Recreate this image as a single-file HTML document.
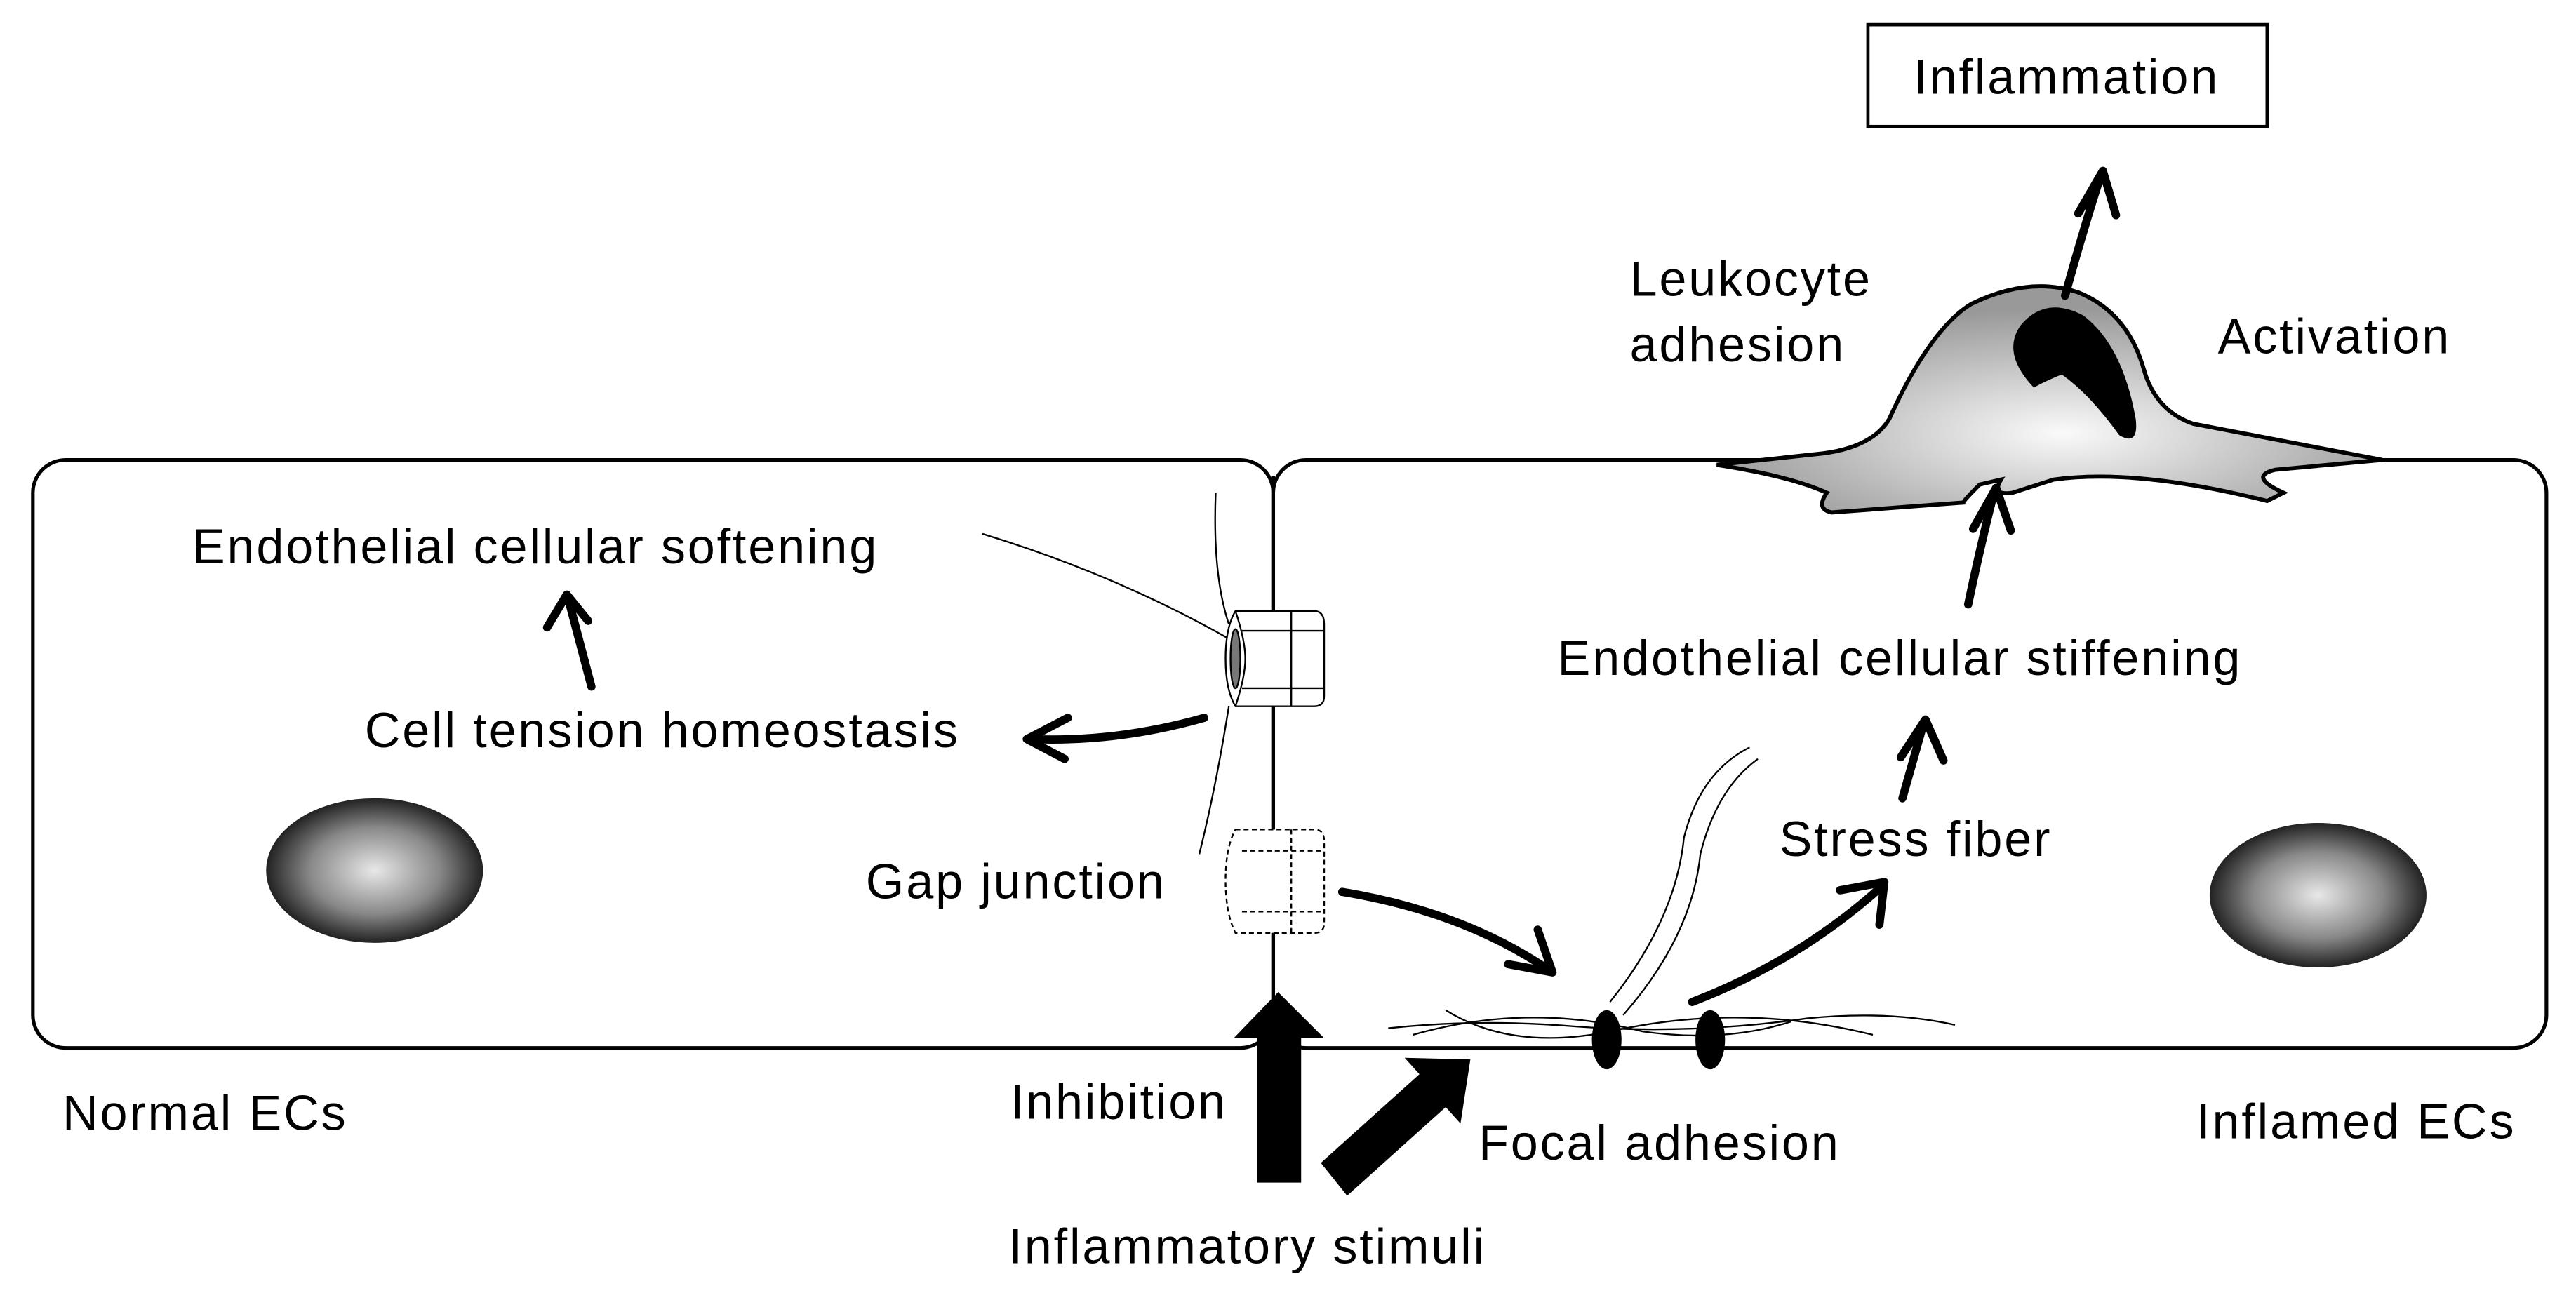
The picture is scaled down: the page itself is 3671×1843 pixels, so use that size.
<!DOCTYPE html>
<html><head><meta charset="utf-8"><style>
html,body{margin:0;padding:0;background:#fff;}
svg{display:block;}
text{font-family:"Liberation Sans",Arial,sans-serif;font-size:30px;letter-spacing:1.2px;fill:#000;}
</style></head><body>
<svg width="3671" height="1843" viewBox="0 0 1568 787.2" xmlns="http://www.w3.org/2000/svg">
<defs>
<radialGradient id="nuc" cx="50%" cy="50%" r="50%">
<stop offset="0" stop-color="#e8e8e8"/><stop offset="0.6" stop-color="#888"/><stop offset="1" stop-color="#222"/>
</radialGradient>
<radialGradient id="leu" cx="52%" cy="65%" r="55%">
<stop offset="0" stop-color="#fafafa"/><stop offset="1" stop-color="#999"/>
</radialGradient>
</defs>
<g fill="none" stroke="#000">
<rect x="20" y="280" width="755" height="358" rx="20" stroke-width="2.2"/>
<rect x="775" y="280" width="775" height="358" rx="20" stroke-width="2.2"/>
<rect x="1137" y="15" width="243" height="62" stroke-width="2"/>
</g>
<!-- leukocyte -->
<path d="M1045,283 L1110,276 Q1140,272 1150,255 Q1175,200 1200,185 Q1235,168 1265,178 Q1295,190 1305,225 Q1312,250 1335,258 L1450,280 L1385,286 Q1368,290 1390,300 L1380,305 Q1300,285 1250,292 L1225,300 Q1212,302 1218,292 L1205,295 Q1195,305 1195,306 L1115,312 Q1105,310 1112,300 Q1090,290 1045,283 Z" fill="url(#leu)" stroke="#000" stroke-width="2.5"/>
<path d="M1230,198 Q1245,180 1268,192 Q1292,210 1300,255 Q1302,272 1290,265 Q1272,240 1255,228 Q1245,232 1238,236 Q1218,215 1230,198 Z" fill="#000"/>
<ellipse cx="228" cy="530" rx="66" ry="44" fill="url(#nuc)"/>
<ellipse cx="1411" cy="545" rx="66" ry="44" fill="url(#nuc)"/>
<g fill="none" stroke="#000" stroke-width="1">
<path d="M598,325 Q680,350 750,390"/>
<path d="M740,300 Q738,350 748,380 M748,430 Q740,480 730,520"/>
<path d="M845,626 Q900,620 960,625 Q1030,630 1100,620 Q1150,615 1190,624"/>
<path d="M880,615 Q920,640 980,628 Q1060,610 1140,630"/>
<path d="M860,630 Q930,610 1000,628 Q1050,635 1090,622"/>
<path d="M980,610 Q1020,560 1025,510 Q1035,470 1065,455"/>
<path d="M988,618 Q1030,570 1035,520 Q1045,480 1070,462"/>
</g>
<g fill="#fff" stroke="#000" stroke-width="1">
<path d="M752,372 L800,372 Q806,372 806,380 L806,424 Q806,430 800,430 L752,430 Q746,420 746,401 Q746,382 752,372 Z"/>
<line x1="756" y1="384" x2="806" y2="384"/><line x1="756" y1="419" x2="806" y2="419"/>
<path d="M752,372 Q758,390 758,401 Q758,412 752,430"/>
<line x1="786" y1="372" x2="786" y2="430"/>
<ellipse cx="752" cy="401" rx="3" ry="18" fill="#777"/>
</g>
<g fill="#fff" stroke="#000" stroke-width="1" stroke-dasharray="3,2">
<path d="M752,505 L800,505 Q806,505 806,512 L806,562 Q806,568 800,568 L752,568 Q746,556 746,536 Q746,516 752,505 Z"/>
<line x1="756" y1="518" x2="806" y2="518"/><line x1="756" y1="555" x2="806" y2="555"/>
<line x1="786" y1="505" x2="786" y2="568"/>
</g>
<line x1="775" y1="290" x2="775" y2="372" stroke="#000" stroke-width="2.2"/>
<line x1="775" y1="430" x2="775" y2="505" stroke="#000" stroke-width="2.2"/>
<line x1="775" y1="568" x2="775" y2="610" stroke="#000" stroke-width="2.2"/>
<ellipse cx="978" cy="633" rx="9" ry="18" fill="#000"/>
<ellipse cx="1041" cy="633" rx="9" ry="18" fill="#000"/>
<g fill="none" stroke="#000" stroke-width="5" stroke-linecap="round" stroke-linejoin="round">
<path d="M1257,180 Q1268,140 1279,106"/><path d="M1265,130 L1280,104 L1288,131"/>
<path d="M360,418 L346,365"/><path d="M333,382 L345,362 L358,378"/>
<path d="M733,437 Q680,452 628,450"/><path d="M650,437 L625,450 L648,462"/>
<path d="M817,543 Q890,555 942,590"/><path d="M936,566 L945,592 L918,587"/>
<path d="M1030,610 Q1095,585 1145,540"/><path d="M1120,542 L1147,537 L1144,563"/>
<path d="M1158,486 L1171,440"/><path d="M1157,461 L1172,438 L1183,463"/>
<path d="M1198,368 Q1206,330 1214,299"/><path d="M1201,322 L1215,297 L1224,323"/>
</g>
<polygon points="765,720 792,720 792,632 806,632 778,604 751,632 765,632" fill="#000"/>
<polygon points="804,708 864,654 855,644 895,645 889,684 880,674 820,728" fill="#000"/>
<text x="1258" y="57" text-anchor="middle">Inflammation</text>
<text x="992" y="180">Leukocyte</text>
<text x="992" y="220">adhesion</text>
<text x="1350" y="215">Activation</text>
<text x="117" y="343">Endothelial cellular softening</text>
<text x="222" y="455">Cell tension homeostasis</text>
<text x="527" y="547">Gap junction</text>
<text x="948" y="411">Endothelial cellular stiffening</text>
<text x="1083" y="521">Stress fiber</text>
<text x="38" y="688">Normal ECs</text>
<text x="615" y="681">Inhibition</text>
<text x="900" y="706">Focal adhesion</text>
<text x="1337" y="693">Inflamed ECs</text>
<text x="614" y="769">Inflammatory stimuli</text>
</svg>
</body></html>
